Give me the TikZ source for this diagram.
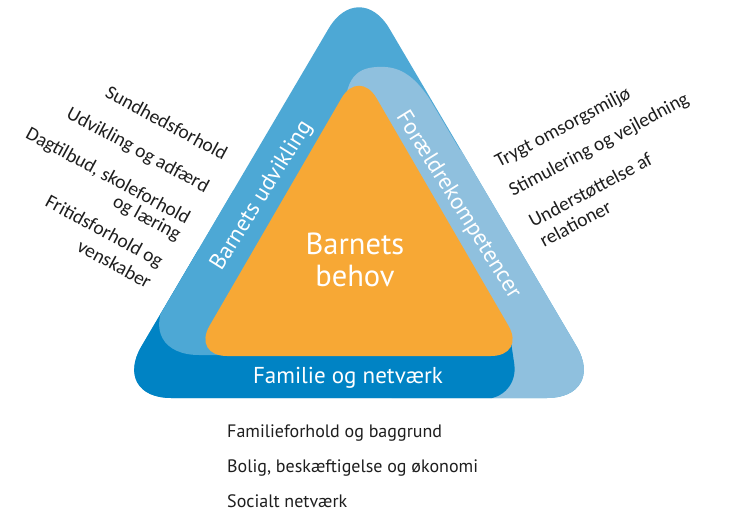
\documentclass[tikz,border=0pt]{standalone}
\usepackage{fontspec}
\setmainfont{Carlito}
\newfontfamily\ptsans{PT Sans}
\definecolor{medblue}{RGB}{77,168,213}
\definecolor{lightblue}{RGB}{143,192,222}
\definecolor{darkblue}{RGB}{0,131,196}
\definecolor{orangef}{RGB}{247,168,53}
\definecolor{labeltext}{RGB}{30,30,30}
\begin{document}
\begin{tikzpicture}[x=1pt,y=-1pt,
 leftlab/.style={rotate=-28.5, anchor=base east, inner sep=0pt, text=labeltext, font=\fontsize{19.5}{23}\selectfont},
 rightlab/.style={rotate=28, anchor=base west, inner sep=0pt, text=labeltext, font=\fontsize{19.5}{23}\selectfont},
 bandtitle/.style={text=white, inner sep=0pt, font=\ptsans\fontsize{23}{27}\selectfont},
 bottomlab/.style={anchor=base west, inner sep=0pt, text=labeltext, font=\ptsans\fontsize{18}{22}\selectfont}]
\fill[white] (0,0) rectangle (730,526);
\useasboundingbox (0,0) rectangle (730,526);
\coordinate (oT) at (359,-23);
\coordinate (oR) at (607,398);
\coordinate (oL) at (111,398);
% outer triangle
\fill[medblue, rounded corners=60pt] (oT) -- (oR) -- (oL) -- cycle;
\begin{scope}
\clip[rounded corners=60pt] (oT) -- (oR) -- (oL) -- cycle;
% Foraeldrekompetencer band
\fill[lightblue] (345,112) .. controls (345,72) and (362,66) .. (385,67)
  .. controls (405,68) and (418,82) .. (429,98) -- (460,150) -- (720,150)
  -- (720,450) -- (400,450) -- cycle;
% Familie og netvaerk band
\fill[darkblue] (40,250) -- (448,250) -- (510,335) -- (514.3,364.3)
  .. controls (516.9,383.5) and (503.3,399) .. (484,399) -- (40,399) -- cycle;
% Barnets udvikling band (lower left corner)
\begin{scope}
\clip (0,0) rectangle (300,526);
\fill[medblue, rounded corners=65pt] (134,355) -- (255,150) -- (450,150) -- (450,355) -- cycle;
\end{scope}
\end{scope}
% inner triangle
\fill[orangef, rounded corners=35pt] (359,68) -- (526,356) -- (192,356) -- cycle;
% titles
\node[font=\ptsans\fontsize{30.5}{32}\selectfont, text=white, align=center, inner sep=0pt] (behov) at (355,260) {Barnets\\behov};
\node[bandtitle, anchor=base] (fam) at (348,383) {Familie og netværk};
\node[bandtitle, rotate=58] (udv) at (262,196) {Barnets udvikling};
\node[bandtitle, rotate=-58] (foraeld) at (458,205) {Forældrekompetencer};
% left labels
\node[leftlab] (l1) at (223,161) {Sundhedsforhold};
\node[leftlab] (l2) at (205,193) {Udvikling og adfærd};
\node[leftlab] (l3) at (186,225) {Dagtilbud, skoleforhold};
\node[leftlab] (l4) at (177,241) {og læring};
\node[leftlab] (l5) at (159,268) {Fritidsforhold og};
\node[leftlab] (l6) at (147,289) {venskaber};
% right labels
\node[rightlab] (r1) at (499,168) {Trygt omsorgsmiljø};
\node[rightlab] (r2) at (513,197) {Stimulering og vejledning};
\node[rightlab] (r3) at (533,228) {Understøttelse af};
\node[rightlab] (r4) at (544,248) {relationer};
% bottom labels
\node[bottomlab] (b1) at (227,437) {Familieforhold og baggrund};
\node[bottomlab] (b2) at (227,472.5) {Bolig, beskæftigelse og økonomi};
\node[bottomlab] (b3) at (227,507) {Socialt netværk};
\end{tikzpicture}
\end{document}
